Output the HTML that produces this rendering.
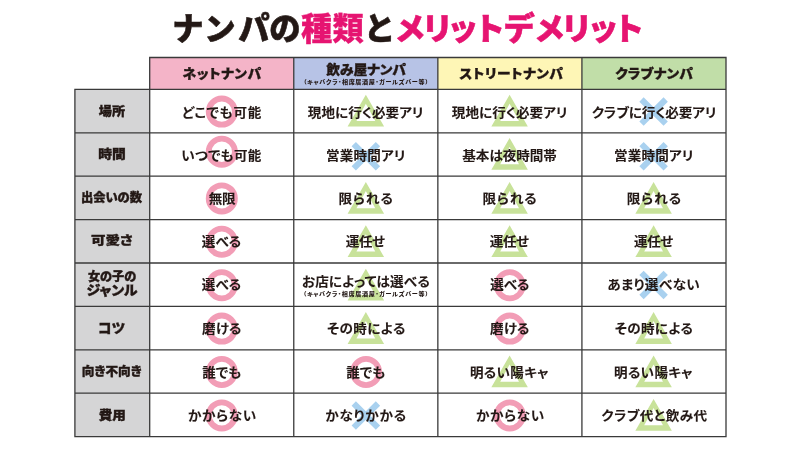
<!DOCTYPE html>
<html lang="ja"><head><meta charset="utf-8"><title>ナンパの種類とメリットデメリット</title>
<style>html,body{margin:0;padding:0;background:#fff}body{width:800px;height:450px;overflow:hidden}svg{display:block}text{font-family:"Liberation Sans", "Noto Sans CJK JP", sans-serif;fill:#231815;font-feature-settings:"palt"}.t{font-weight:900;font-size:31.3px;font-feature-settings:normal;stroke:#231815;stroke-width:.6px;stroke-linejoin:round}.h{font-weight:900;font-size:12.8px;text-anchor:middle;stroke:#231815;stroke-width:.35px}.s{font-weight:900;font-size:5.7px;text-anchor:middle}.l{font-weight:900;font-size:12px;text-anchor:middle;stroke:#231815;stroke-width:.35px}.c{font-weight:700;font-size:12.7px;text-anchor:middle;stroke:#231815;stroke-width:.1px}</style></head><body>
<svg width="800" height="450" viewBox="0 0 800 450">
<rect width="800" height="450" fill="#fff"/>
<text class="t" y="39.7"><tspan x="172.3 204.3 238.2 269.3">ナンパの</tspan><tspan x="301 332.4" y="40.1" fill="#E61471" stroke="#E61471" stroke-width=".3">種類</tspan><tspan x="364" y="39.7">と</tspan><tspan x="394.6 421.7 447.3 473.8 503.4 534.1 561.1 587.4 612.9" fill="#E61471" stroke="#E61471">メリットデメリット</tspan></text>
<rect x="149.7" y="57.5" width="144.07" height="31.9" fill="#F4B4C8"/>
<rect x="293.77" y="57.5" width="144.07" height="31.9" fill="#B7C3E6"/>
<rect x="437.85" y="57.5" width="144.07" height="31.9" fill="#FEF6B6"/>
<rect x="581.92" y="57.5" width="144.08" height="31.9" fill="#C1DEA8"/>
<rect x="74.9" y="89.4" width="74.8" height="347.2" fill="#D5D5D6"/>
<circle cx="221.8" cy="111.6" r="13.1" fill="none" stroke="#F29DB6" stroke-width="5.8"/>
<path fill="#C8E29A" fill-rule="evenodd" d="M365.85 94.8L384.1 126.6L347.6 126.6ZM365.85 103.8L375.25 121.1L356.45 121.1Z"/>
<path fill="#C8E29A" fill-rule="evenodd" d="M509.6 94.8L527.85 126.6L491.35 126.6ZM509.6 103.8L519 121.1L500.2 121.1Z"/>
<path fill="none" stroke="#A9D1EF" stroke-width="6.1" d="M641.5 99.5L665.7 123.7M665.7 99.5L641.5 123.7"/>
<circle cx="221.8" cy="151.8" r="13.1" fill="none" stroke="#F29DB6" stroke-width="5.8"/>
<path fill="none" stroke="#A9D1EF" stroke-width="6.1" d="M353.75 144.1L377.95 168.3M377.95 144.1L353.75 168.3"/>
<path fill="#C8E29A" fill-rule="evenodd" d="M509.6 137.9L527.85 169.8L491.35 169.8ZM509.6 147L519 164.3L500.2 164.3Z"/>
<path fill="none" stroke="#A9D1EF" stroke-width="6.1" d="M641.5 144.1L665.7 168.3M665.7 144.1L641.5 168.3"/>
<circle cx="221.8" cy="198.4" r="13.1" fill="none" stroke="#F29DB6" stroke-width="5.8"/>
<path fill="#C8E29A" fill-rule="evenodd" d="M365.85 181.9L384.1 213.7L347.6 213.7ZM365.85 190.9L375.25 208.2L356.45 208.2Z"/>
<path fill="#C8E29A" fill-rule="evenodd" d="M509.6 181.9L527.85 213.7L491.35 213.7ZM509.6 190.9L519 208.2L500.2 208.2Z"/>
<path fill="#C8E29A" fill-rule="evenodd" d="M653.6 181.9L671.85 213.7L635.35 213.7ZM653.6 190.9L663 208.2L644.2 208.2Z"/>
<circle cx="221.8" cy="241.8" r="13.1" fill="none" stroke="#F29DB6" stroke-width="5.8"/>
<path fill="#C8E29A" fill-rule="evenodd" d="M365.85 225.3L384.1 257.1L347.6 257.1ZM365.85 234.3L375.25 251.6L356.45 251.6Z"/>
<path fill="#C8E29A" fill-rule="evenodd" d="M509.6 225.3L527.85 257.1L491.35 257.1ZM509.6 234.3L519 251.6L500.2 251.6Z"/>
<path fill="#C8E29A" fill-rule="evenodd" d="M653.6 225.3L671.85 257.1L635.35 257.1ZM653.6 234.3L663 251.6L644.2 251.6Z"/>
<circle cx="221.8" cy="285.2" r="13.1" fill="none" stroke="#F29DB6" stroke-width="5.8"/>
<path fill="#C8E29A" fill-rule="evenodd" d="M365.85 268.7L384.1 300.5L347.6 300.5ZM365.85 277.7L375.25 295L356.45 295Z"/>
<circle cx="509.8" cy="285.2" r="13.1" fill="none" stroke="#F29DB6" stroke-width="5.8"/>
<path fill="none" stroke="#A9D1EF" stroke-width="6.1" d="M641.5 272.8L665.7 297M665.7 272.8L641.5 297"/>
<circle cx="221.8" cy="328.6" r="13.1" fill="none" stroke="#F29DB6" stroke-width="5.8"/>
<path fill="#C8E29A" fill-rule="evenodd" d="M365.85 312.1L384.1 343.9L347.6 343.9ZM365.85 321.1L375.25 338.4L356.45 338.4Z"/>
<circle cx="509.8" cy="328.6" r="13.1" fill="none" stroke="#F29DB6" stroke-width="5.8"/>
<path fill="#C8E29A" fill-rule="evenodd" d="M653.6 312.1L671.85 343.9L635.35 343.9ZM653.6 321.1L663 338.4L644.2 338.4Z"/>
<circle cx="221.8" cy="372" r="13.1" fill="none" stroke="#F29DB6" stroke-width="5.8"/>
<circle cx="366.05" cy="372" r="13.1" fill="none" stroke="#F29DB6" stroke-width="5.8"/>
<path fill="#C8E29A" fill-rule="evenodd" d="M509.6 355.5L527.85 387.3L491.35 387.3ZM509.6 364.5L519 381.8L500.2 381.8Z"/>
<path fill="#C8E29A" fill-rule="evenodd" d="M653.6 355.5L671.85 387.3L635.35 387.3ZM653.6 364.5L663 381.8L644.2 381.8Z"/>
<circle cx="221.8" cy="415.4" r="13.1" fill="none" stroke="#F29DB6" stroke-width="5.8"/>
<path fill="none" stroke="#A9D1EF" stroke-width="6.1" d="M353.75 403.5L377.95 427.7M377.95 403.5L353.75 427.7"/>
<circle cx="509.8" cy="415.4" r="13.1" fill="none" stroke="#F29DB6" stroke-width="5.8"/>
<path fill="#C8E29A" fill-rule="evenodd" d="M653.6 398.9L671.85 430.7L635.35 430.7ZM653.6 407.9L663 425.2L644.2 425.2Z"/>
<path fill="none" stroke="#3a3a3a" stroke-width="1.3" stroke-linecap="square" d="M149.7 57.5H726M74.9 89.4H726M74.9 132.8H726M74.9 176.2H726M74.9 219.6H726M74.9 263H726M74.9 306.4H726M74.9 349.8H726M74.9 393.2H726M74.9 436.6H726M74.9 89.4V436.6M149.7 57.5V436.6M293.77 57.5V436.6M437.85 57.5V436.6M581.92 57.5V436.6M726 57.5V436.6"/>
<text class="h" transform="translate(222.17 78.4) scale(1.07 1)" style="letter-spacing:0.56px">ネットナンパ</text>
<text class="h" transform="translate(366.11 74.4) scale(1.07 1)" style="letter-spacing:0.04px">飲み屋ナンパ</text>
<text class="s" transform="translate(366.19 83.6) scale(1.07 1)" style="letter-spacing:0.6px">（キャバクラ・相席居酒屋・ガールズバー等）</text>
<text class="h" transform="translate(511.35 78.4) scale(1.07 1)" style="letter-spacing:0.54px">ストリートナンパ</text>
<text class="h" transform="translate(654.36 78.4) scale(1.07 1)" style="letter-spacing:0.29px">クラブナンパ</text>
<text class="l" transform="translate(111.88 116.24) scale(1.092 1)">場所</text>
<text class="l" transform="translate(111.99 159.11) scale(1.148 1)">時間</text>
<text class="l" transform="translate(111.44 202.24) scale(1.024 1)">出会いの数</text>
<text class="l" transform="translate(111.75 244.96) scale(1.206 1)">可愛さ</text>
<text class="l" transform="translate(111.55 332.91) scale(1.014 1)" style="font-size:13.6px">コツ</text>
<text class="l" transform="translate(111.76 375.7) scale(1.059 1)">向き不向き</text>
<text class="l" transform="translate(112.33 420.06) scale(1.138 1)">費用</text>
<text class="l" transform="translate(112.11 281.04) scale(1.016 1)">女の子の</text>
<text class="l" transform="translate(112.03 294.84) scale(1.025 1)" style="font-size:13.6px">ジャンル</text>
<text class="c" transform="translate(222.01 117.04) scale(1.07 1)" style="letter-spacing:0.67px">どこでも可能</text>
<text class="c" transform="translate(365.7 117.04) scale(1.07 1)" style="letter-spacing:0.03px">現地に行く必要アリ</text>
<text class="c" transform="translate(509.68 117.04) scale(1.07 1)" style="letter-spacing:0.03px">現地に行く必要アリ</text>
<text class="c" transform="translate(654.15 117.04) scale(1.07 1)" style="letter-spacing:-0.07px">クラブに行く必要アリ</text>
<text class="c" transform="translate(221.48 159.91) scale(1.07 1)" style="letter-spacing:0.25px">いつでも可能</text>
<text class="c" transform="translate(365.78 159.91) scale(1.07 1)" style="letter-spacing:0.18px">営業時間アリ</text>
<text class="c" transform="translate(509.59 159.91) scale(1.07 1)" style="letter-spacing:-0.04px">基本は夜時間帯</text>
<text class="c" transform="translate(653.78 159.91) scale(1.07 1)" style="letter-spacing:0.14px">営業時間アリ</text>
<text class="c" transform="translate(221.97 203.04) scale(1.07 1)" style="letter-spacing:-0.25px">無限</text>
<text class="c" transform="translate(366.07 203.04) scale(1.07 1)" style="letter-spacing:0.87px">限られる</text>
<text class="c" transform="translate(510.05 203.04) scale(1.07 1)" style="letter-spacing:0.87px">限られる</text>
<text class="c" transform="translate(654.31 203.04) scale(1.07 1)" style="letter-spacing:0.87px">限られる</text>
<text class="c" transform="translate(221.43 245.76) scale(1.07 1)" style="letter-spacing:-0.1px">選べる</text>
<text class="c" transform="translate(365.1 245.76) scale(1.07 1)" style="letter-spacing:-0.36px">運任せ</text>
<text class="c" transform="translate(509.09 245.76) scale(1.07 1)" style="letter-spacing:-0.36px">運任せ</text>
<text class="c" transform="translate(653.34 245.76) scale(1.07 1)" style="letter-spacing:-0.36px">運任せ</text>
<text class="c" transform="translate(221.43 289.14) scale(1.07 1)" style="letter-spacing:-0.1px">選べる</text>
<text class="c" transform="translate(365.9 285.8) scale(1.07 1)" style="letter-spacing:0.16px">お店によっては選べる</text>
<text class="c" transform="translate(509.82 289.14) scale(1.07 1)" style="letter-spacing:-0.1px">選べる</text>
<text class="c" transform="translate(653.75 289.14) scale(1.07 1)" style="letter-spacing:0.39px">あまり選べない</text>
<text class="c" transform="translate(221.79 333.01) scale(1.07 1)" style="letter-spacing:0.11px">磨ける</text>
<text class="c" transform="translate(366.37 333.01) scale(1.07 1)" style="letter-spacing:0.34px">その時による</text>
<text class="c" transform="translate(509.78 333.01) scale(1.07 1)" style="letter-spacing:0.11px">磨ける</text>
<text class="c" transform="translate(654.08 333.01) scale(1.07 1)" style="letter-spacing:0.34px">その時による</text>
<text class="c" transform="translate(221.83 376.5) scale(1.07 1)" style="letter-spacing:0.11px">誰でも</text>
<text class="c" transform="translate(365.78 376.5) scale(1.07 1)" style="letter-spacing:0.11px">誰でも</text>
<text class="c" transform="translate(509.32 376.5) scale(1.07 1)" style="letter-spacing:0.27px">明るい陽キャ</text>
<text class="c" transform="translate(653.44 376.5) scale(1.07 1)" style="letter-spacing:0.27px">明るい陽キャ</text>
<text class="c" transform="translate(222.42 419.96) scale(1.07 1)" style="letter-spacing:0.63px">かからない</text>
<text class="c" transform="translate(366.2 419.96) scale(1.07 1)" style="letter-spacing:0.76px">かなりかかる</text>
<text class="c" transform="translate(510.35 419.96) scale(1.07 1)" style="letter-spacing:0.63px">かからない</text>
<text class="c" transform="translate(654.43 419.96) scale(1.07 1)" style="letter-spacing:0.42px">クラブ代と飲み代</text>
<text class="s" transform="translate(366.08 296.4) scale(1.07 1)" style="letter-spacing:0.61px">（キャバクラ・相席居酒屋・ガールズバー等）</text>
</svg></body></html>
